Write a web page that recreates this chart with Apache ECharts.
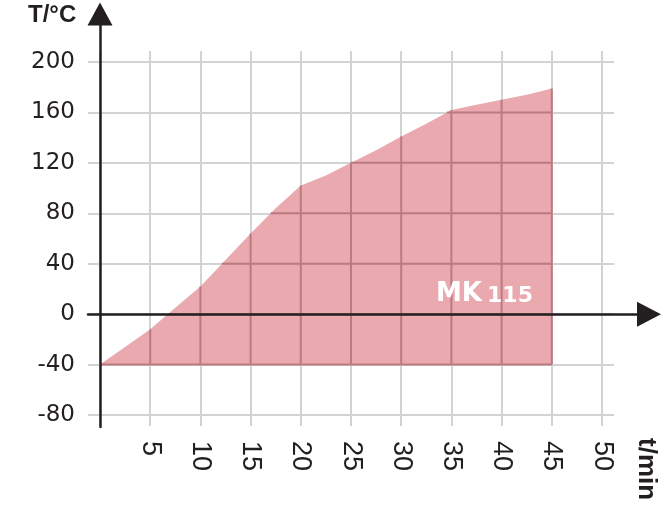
<!DOCTYPE html>
<html>
<head>
<meta charset="utf-8">
<script src="https://cdn.jsdelivr.net/npm/echarts@6/dist/echarts.min.js"></script>
<style>
html,body{margin:0;padding:0;background:#fff;}
#chart{width:665px;height:515px;}
</style>
</head>
<body>
<div id="chart"></div>
<script>
// ---- data ----
const timeMin = [0, 2.5, 5, 7.5, 10, 12.5, 15, 17.5, 20, 22.5, 25, 27.5, 30, 32.5, 35, 37.5, 40, 42.5, 45];
const tempC   = [-40, -26, -12, 5, 22, 43, 64, 84, 102, 110, 120, 130, 141, 151, 162, 166, 170, 174, 179];
const fillBase = -40;
const xTickLabels = [5, 10, 15, 20, 25, 30, 35, 40, 45, 50];
const yTickLabels = [-80, -40, 0, 40, 80, 120, 160, 200];
const seriesName = 'MK 115';
const xName = 't/min';
const yName = 'T/°C';

// ---- layout / style ----
const W = 665, H = 515;
const X_MIN = 0, X_MAX = 50, X_INT = 5;
const Y_MIN = -80, Y_MAX = 200, Y_INT = 40;
const G = {left: 100, right: 63, top: 62, bottom: 100};
const G2 = {left: 88, right: 16, top: 14, bottom: 88};
const pxX = (W - G.left - G.right) / (X_MAX - X_MIN);
const pxY = (H - G.top - G.bottom) / (Y_MAX - Y_MIN);
const x2min = X_MIN - (G.left - G2.left) / pxX;
const x2max = X_MAX + (G.right - G2.right) / pxX;
const y2min = Y_MIN - (G.bottom - G2.bottom) / pxY;
const y2max = Y_MAX + (G.top - G2.top) / pxY;

const GRID_C = '#d3d3d3';
const GRID_IN_C = '#b97a80';
const AXIS_C = '#231f20';
const TEXT_C = '#231f20';
const FILL_C = '#e9a9ae';

const gridLine = {color: GRID_C, width: 2};

// value of the drawn (piecewise-linear) outline at time t
function curveAt(t) {
  for (let i = 1; i < timeMin.length; i++) {
    if (t <= timeMin[i]) {
      const f = (t - timeMin[i - 1]) / (timeMin[i] - timeMin[i - 1]);
      return tempC[i - 1] + f * (tempC[i] - tempC[i - 1]);
    }
  }
  return tempC[tempC.length - 1];
}
// first time at which the outline reaches temperature v
function timeAt(v) {
  if (v <= tempC[0]) return timeMin[0];
  for (let i = 1; i < tempC.length; i++) {
    if (tempC[i] >= v) {
      const f = (v - tempC[i - 1]) / (tempC[i] - tempC[i - 1]);
      return timeMin[i - 1] + f * (timeMin[i] - timeMin[i - 1]);
    }
  }
  return null;
}

const chart = echarts.init(document.getElementById('chart'), null, {renderer: 'canvas'});

const option = {
  animation: false,
  backgroundColor: '#ffffff',
  grid: [
    {left: G.left, right: G.right, top: G.top, bottom: G.bottom},
    {left: G2.left, right: G2.right, top: G2.top, bottom: G2.bottom}
  ],
  xAxis: [
    {
      gridIndex: 0, type: 'value', min: X_MIN, max: X_MAX, interval: X_INT, position: 'bottom', z: 0,
      axisLine: {show: false, onZero: false},
      axisTick: {show: true, length: 11, lineStyle: gridLine},
      axisLabel: {
        show: true, rotate: -90, margin: 26, customValues: xTickLabels,
        color: TEXT_C, fontFamily: 'Liberation Sans', fontSize: 27
      },
      splitLine: {show: true, lineStyle: gridLine}
    },
    {
      gridIndex: 0, type: 'value', min: X_MIN, max: X_MAX, interval: X_INT, position: 'top', z: 0,
      axisLine: {show: false, onZero: false},
      axisTick: {show: true, length: 11, lineStyle: gridLine},
      axisLabel: {show: false},
      splitLine: {show: false}
    },
    {
      gridIndex: 1, type: 'value', min: x2min, max: x2max, z: 5,
      axisLine: {show: true, onZero: true, lineStyle: {color: AXIS_C, width: 2.5},
                 symbol: ['none', 'triangle'], symbolSize: [25, 24]},
      axisTick: {show: false}, axisLabel: {show: false}, splitLine: {show: false}
    }
  ],
  yAxis: [
    {
      gridIndex: 0, type: 'value', min: Y_MIN, max: Y_MAX, interval: Y_INT, position: 'left', z: 0,
      axisLine: {show: false, onZero: false},
      axisTick: {show: true, length: 12, lineStyle: gridLine},
      axisLabel: {
        show: true, margin: 25, customValues: yTickLabels, padding: [6, 0, 0, 0],
        color: TEXT_C, fontFamily: 'DejaVu Sans', fontSize: 23
      },
      splitLine: {show: true, lineStyle: gridLine}
    },
    {
      gridIndex: 0, type: 'value', min: Y_MIN, max: Y_MAX, interval: Y_INT, position: 'right', z: 0,
      axisLine: {show: false, onZero: false},
      axisTick: {show: true, length: 12, lineStyle: gridLine},
      axisLabel: {show: false},
      splitLine: {show: false}
    },
    {
      gridIndex: 1, type: 'value', min: y2min, max: y2max, z: 5,
      axisLine: {show: true, onZero: true, lineStyle: {color: AXIS_C, width: 2.5},
                 symbol: ['none', 'triangle'], symbolSize: [25, 23]},
      axisTick: {show: false}, axisLabel: {show: false}, splitLine: {show: false}
    }
  ],
  series: [
    {
      type: 'custom',
      name: seriesName,
      coordinateSystem: 'cartesian2d',
      xAxisIndex: 0, yAxisIndex: 0,
      z: 2, silent: true,
      data: timeMin.map((t, i) => [t, tempC[i]]),
      renderItem: function (params, api) {
        if (params.dataIndex !== 0) return null;
        const tLast = timeMin[timeMin.length - 1];
        const pts = timeMin.map((t, i) => api.coord([t, tempC[i]]));
        pts.push(api.coord([tLast, fillBase]));
        pts.push(api.coord([timeMin[0], fillBase]));
        const children = [{
          type: 'polygon',
          shape: {points: pts},
          style: {fill: FILL_C, stroke: null}
        }];
        const lineStyle = {stroke: GRID_IN_C, lineWidth: 2, fill: null};
        // vertical grid lines seen through the fill
        for (let x = X_MIN + X_INT; x <= tLast; x += X_INT) {
          const p1 = api.coord([x, fillBase]);
          const p2 = api.coord([x, curveAt(x)]);
          children.push({type: 'line', shape: {x1: p1[0], y1: p1[1], x2: p2[0], y2: p2[1]}, style: lineStyle});
        }
        // horizontal grid lines seen through the fill
        for (let y = Y_MIN; y <= Y_MAX; y += Y_INT) {
          if (y < fillBase) continue;
          const t0 = timeAt(y);
          if (t0 === null) continue;
          const p1 = api.coord([t0, y]);
          const p2 = api.coord([tLast, y]);
          children.push({type: 'line', shape: {x1: p1[0], y1: p1[1], x2: p2[0], y2: p2[1]}, style: lineStyle});
        }
        return {type: 'group', children: children};
      }
    }
  ],
  graphic: [
    {
      type: 'text', x: 28, y: 15, z: 10,
      style: {text: yName, fill: TEXT_C, font: 'bold 24px "Liberation Sans"',
              align: 'left', verticalAlign: 'middle', textAlign: 'left', textVerticalAlign: 'middle'}
    },
    {
      type: 'text', x: 646, y: 438, rotation: -Math.PI / 2, z: 10,
      style: {text: xName, fill: TEXT_C, font: 'bold 26px "Liberation Sans"',
              align: 'left', verticalAlign: 'middle', textAlign: 'left', textVerticalAlign: 'middle'}
    },
    {
      type: 'text', x: 436, y: 294, z: 10,
      style: {
        text: '{a|MK}{b|115}',
        fill: '#ffffff',
        align: 'left', verticalAlign: 'middle', textAlign: 'left', textVerticalAlign: 'middle',
        rich: {
          a: {fill: '#ffffff', font: 'bold 26px "DejaVu Sans"', verticalAlign: 'bottom'},
          b: {fill: '#ffffff', font: 'bold 22px "DejaVu Sans"', verticalAlign: 'bottom', padding: [0, 0, 0, 5]}
        }
      }
    }
  ]
};
chart.setOption(option);
</script>
</body>
</html>
